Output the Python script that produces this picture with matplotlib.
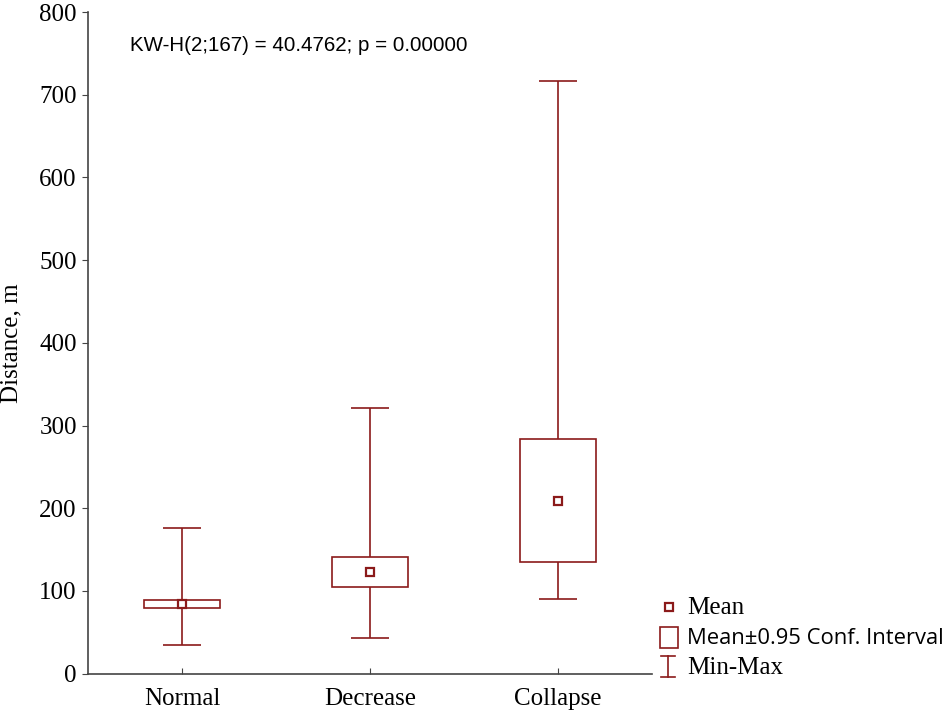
import numpy as np
import matplotlib
matplotlib.use("Agg")
import matplotlib.pyplot as plt
from matplotlib.patches import Rectangle
from matplotlib.lines import Line2D

groups = ["Normal", "Decrease", "Collapse"]
means = [84, 123, 209]
ci_low = [79, 105, 135]
ci_high = [89.5, 141.5, 284]
mins = [35, 43, 90]
maxs = [176.5, 321, 717]

col = "#8b1a1a"
serif = "Liberation Serif"

dpi = 100
fig = plt.figure(figsize=(951/dpi, 715/dpi), dpi=dpi)
ax = fig.add_axes([0.0925, 0.0578, 0.5931, 0.9254])

pos = np.arange(1, len(groups) + 1)
bw = 0.4
cw = 0.2
for x, m, lo, hi, mn, mx in zip(pos, means, ci_low, ci_high, mins, maxs):
    ax.vlines(x, mn, lo, color=col, lw=1.2)
    ax.vlines(x, hi, mx, color=col, lw=1.2)
    ax.hlines([mn, mx], x - cw/2, x + cw/2, color=col, lw=1.2)
    ax.add_patch(Rectangle((x - bw/2, lo), bw, hi - lo, fill=False, ec=col, lw=1.2))
ax.plot(pos, means, "s", ms=6, mfc="white", mec=col, mew=1.6, ls="none")

ax.set_xlim(0.5, 3.5)
ax.set_ylim(0, 800)
ax.set_xticks(pos)
ax.set_xticklabels(groups, fontfamily=serif, fontsize=18)
ax.set_yticks(range(0, 801, 100))
ax.set_yticklabels([str(v) for v in range(0, 801, 100)], fontfamily=serif, fontsize=18)
ax.tick_params(axis="x", direction="in", length=4, color="#444444", pad=10)
ax.tick_params(axis="y", direction="out", length=4, color="#444444", pad=4)
for s in ["top", "right"]:
    ax.spines[s].set_visible(False)
for s in ["left", "bottom"]:
    ax.spines[s].set_color("#444444")
    ax.spines[s].set_linewidth(1.2)
ax.set_ylabel("Distance, m", fontfamily=serif, fontsize=18, labelpad=12)

ax.text(0.075, 0.949, "KW-H(2;167) = 40.4762; p = 0.00000", transform=ax.transAxes,
        fontfamily="Liberation Sans", fontsize=14.8, va="center", ha="left")

# legend, drawn by hand in figure pixels
def fx(px):
    return px / 951
def fy(py):
    return 1 - py / 715

fig.add_artist(Line2D([fx(669)], [fy(607)], marker="s", ms=6, mfc="white", mec=col,
                      mew=1.6, ls="none", transform=fig.transFigure))
fig.text(fx(687), fy(608), "Mean", fontfamily=serif, fontsize=18, va="center")
fig.add_artist(Rectangle((fx(660), fy(648)), fx(18), 21/715, fill=False, ec=col, lw=1.2,
                         transform=fig.transFigure))
fig.text(fx(687), fy(638), "Mean\u00b10.95 Conf. Interval", fontfamily="Open Sans",
         fontsize=15.8, va="center")
fig.add_artist(Line2D([fx(668), fx(668)], [fy(656), fy(677)], color=col, lw=1.2,
                      transform=fig.transFigure))
fig.add_artist(Line2D([fx(661), fx(675)], [fy(656), fy(656)], color=col, lw=1.2,
                      transform=fig.transFigure))
fig.add_artist(Line2D([fx(661), fx(675)], [fy(677), fy(677)], color=col, lw=1.2,
                      transform=fig.transFigure))
fig.text(fx(687), fy(668), "Min-Max", fontfamily=serif, fontsize=18, va="center")

fig.savefig("out.png", dpi=dpi)
